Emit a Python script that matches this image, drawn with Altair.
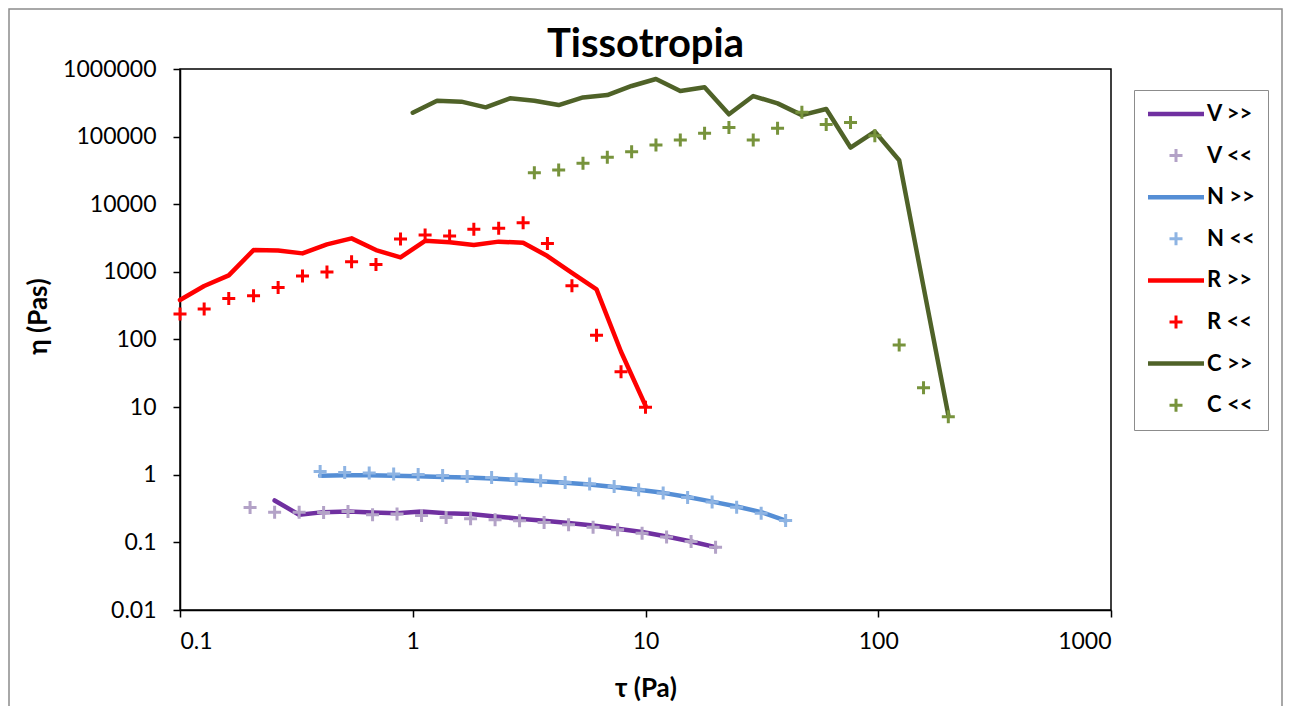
import altair as alt
import pandas as pd

# ---- data ----
series_labels = ["V >>", "V <<", "N >>", "N <<", "R >>", "R <<", "C >>", "C <<"]
series_colors = ["#7030A0", "#B3A2C7", "#558ED5", "#8EB4E3", "#FF0000", "#FF0000", "#4F6228", "#77933C"]
line_labels = ["V >>", "N >>", "R >>", "C >>"]
line_colors = ["#7030A0", "#558ED5", "#FF0000", "#4F6228"]

v_tau = [0.2, 0.255, 0.325, 0.414, 0.527, 0.672, 0.856, 1.091, 1.391, 1.772,
         2.258, 2.877, 3.667, 4.672, 5.954, 7.587, 9.668, 12.32, 15.7, 20.0]
v_up = [None, 0.417, 0.256, 0.28, 0.287, 0.277, 0.27, 0.287, 0.27, 0.262,
        0.242, 0.224, 0.209, 0.193, 0.178, 0.159, 0.142, 0.122, 0.103, 0.085]
v_down = [0.329, 0.28, 0.28, 0.277, 0.287, 0.256, 0.262, 0.25, 0.233, 0.224,
          0.216, 0.209, 0.197, 0.182, 0.168, 0.154, 0.137, 0.12, 0.103, 0.085]

n_tau = [0.4, 0.51, 0.65, 0.828, 1.055, 1.344, 1.713, 2.182, 2.781, 3.544,
         4.516, 5.754, 7.333, 9.344, 11.91, 15.17, 19.33, 24.64, 31.4, 40.0]
n_up = [0.97, 0.98, 0.98, 0.97, 0.95, 0.93, 0.91, 0.88, 0.84, 0.80,
        0.76, 0.72, 0.66, 0.60, 0.54, 0.47, 0.40, 0.34, 0.28, 0.21]
n_down = [1.12, 1.08, 1.06, 1.03, 1.01, 0.976, 0.944, 0.912, 0.86, 0.815,
          0.77, 0.73, 0.67, 0.60, 0.536, 0.46, 0.395, 0.33, 0.27, 0.21]

r_tau = [0.1, 0.127, 0.162, 0.207, 0.264, 0.336, 0.428, 0.546, 0.695, 0.886,
         1.13, 1.44, 1.83, 2.34, 2.98, 3.79, 4.83, 6.16, 7.85, 10.0]
r_up = [383, 617, 887, 2100, 2070, 1877, 2550, 3130, 2100, 1637,
        2880, 2735, 2495, 2800, 2700, 1715, 970, 550, 66, 10.5]
r_down = [238, 282, 405, 444, 589, 867, 1000, 1413, 1290, 3055,
          3500, 3380, 4260, 4400, 5330, 2630, 625, 116, 33.3, 10]

c_tau = [1.0, 1.272, 1.618, 2.058, 2.618, 3.33, 4.236, 5.388, 6.854, 8.718,
         11.09, 14.11, 17.94, 22.83, 29.03, 36.93, 46.98, 59.76, 76.01, 96.69,
         123.0, 156.5, 200.0]
c_up = [226000, 340000, 329000, 271000, 369000, 340000, 293000, 380000, 412000, 561000,
        711000, 473000, 537000, 214000, 398000, 310000, 208000, 256000, 69000, 118600,
        44700, 600, 7.6]
c_down = [None, None, None, None, None, 29200, 32100, 40300, 49400, 59900,
          75200, 89200, 112000, 136000, 89000, 133000, 229000, 151000, 162000, 103000,
          82.6, 19.3, 7.2]

x_ticks = [0.1, 1, 10, 100, 1000]
y_ticks = [0.01, 0.1, 1, 10, 100, 1000, 10000, 100000, 1000000]

# ---- tables ----
def rows(name, taus, etas):
    return [{"tau": t, "eta": e, "series": name} for t, e in zip(taus, etas) if e is not None]

lines_df = pd.DataFrame(rows("V >>", v_tau, v_up) + rows("N >>", n_tau, n_up)
                        + rows("R >>", r_tau, r_up) + rows("C >>", c_tau, c_up))
points_df = pd.DataFrame(rows("V <<", v_tau, v_down) + rows("N <<", n_tau, n_down)
                         + rows("R <<", r_tau, r_down) + rows("C <<", c_tau, c_down))

# symbol paths (unit = 10 px at size 400)
LINE_PATH = "M-2.8,-0.225H2.8V0.225H-2.8Z"
CROSS_PATH = ("M-0.15,-0.65H0.15V-0.15H0.65V0.15H0.15V0.65"
              "H-0.15V0.15H-0.65V-0.15H-0.15Z")
shape_range = [LINE_PATH if s.endswith(">>") else CROSS_PATH for s in series_labels]

FONT = "Lato"
LBL = "datum.value >= 1 ? format(datum.value, 'd') : format(datum.value, '~g')"

x_enc = alt.X("tau:Q", scale=alt.Scale(type="log", domain=[0.1, 1000]),
              axis=alt.Axis(values=x_ticks, title="τ (Pa)", titleY=78, titleBaseline="middle",
                            labelExpr=LBL))
y_enc = alt.Y("eta:Q", scale=alt.Scale(type="log", domain=[0.01, 1000000]),
              axis=alt.Axis(values=y_ticks, title="η (Pas)", titleX=-142, titleY=247,
                            titleBaseline="middle", labelExpr=LBL))

legend = alt.Legend(title=None, orient="none", legendX=954, legendY=21,
                    symbolSize=400, symbolOffset=18, symbolStrokeWidth=0, symbolOpacity=1,
                    labelFont=FONT, labelFontSize=22, labelFontWeight="bold",
                    labelColor="black", labelOffset=20, rowPadding=19.6,
                    padding=13, strokeColor="#8c8c8c", fillColor="white")

frame = alt.Chart(alt.Data(values=[{"a": 1}])).mark_rect(
    fillOpacity=0, stroke="#8c8c8c", strokeWidth=1.5
).encode(x=alt.value(-171), x2=alt.value(1102), y=alt.value(-60), y2=alt.value(700))

lines = alt.Chart(lines_df).mark_line(strokeWidth=4.5, strokeJoin="round", strokeCap="round").encode(
    x=x_enc, y=y_enc,
    stroke=alt.Stroke("series:N", scale=alt.Scale(domain=line_labels, range=line_colors),
                      legend=None),
    detail="series:N",
)

points = alt.Chart(points_df).mark_point(filled=True, size=400, opacity=1, strokeWidth=0).encode(
    x=x_enc, y=y_enc,
    color=alt.Color("series:N", scale=alt.Scale(domain=series_labels, range=series_colors),
                    legend=legend),
    shape=alt.Shape("series:N", scale=alt.Scale(domain=series_labels, range=shape_range),
                    legend=legend),
)

chart = alt.layer(frame, lines, points).properties(
    width=931, height=541,
    autosize=alt.AutoSizeParams(type="none"),
    padding={"left": 172, "top": 61, "right": 172, "bottom": 96},
    title=alt.TitleParams("Tissotropia", font=FONT, fontSize=40, fontWeight="bold",
                          color="black", anchor="middle", baseline="top",
                          offset=0, dy=57, frame="group"),
).configure_view(stroke="black", strokeWidth=1.5).configure_axis(
    grid=False, domainColor="black", domainWidth=1.5, tickColor="black", tickWidth=1.5,
    tickSize=7, labelFont=FONT, labelFontSize=23, labelColor="black",
    titleFont=FONT, titleFontSize=26, titleFontWeight="bold", titleColor="black",
).configure_axisX(labelPadding=13).configure_axisY(labelPadding=17)

chart.save("out.html", embed_options={"renderer": "svg", "actions": False})
